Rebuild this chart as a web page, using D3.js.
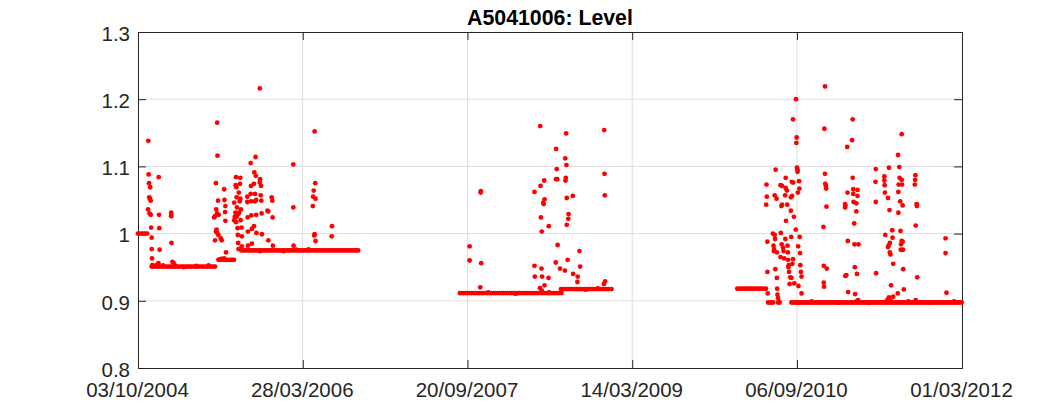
<!DOCTYPE html>
<html>
<head>
<meta charset="utf-8">
<script src="https://cdn.jsdelivr.net/npm/d3@7"></script>
<style>
  html, body { margin: 0; padding: 0; background: #fff; }
  svg { display: block; }
</style>
</head>
<body>
<div id="chart"></div>
<script>
const chartTitle = "A5041006: Level";
const startDate = "03/10/2004";
const endDate = "01/03/2012";
const xTickLabels = ["03/10/2004", "28/03/2006", "20/09/2007", "14/03/2009", "06/09/2010", "01/03/2012"];
const yTicks = [0.8, 0.9, 1, 1.1, 1.2, 1.3];

// days since startDate on the flat stretches, one list per level
const runDays100 = [0, 6, 12, 18, 24, 30];
const runDays951 = [45, 52, 58, 65, 71, 78, 84, 91, 97, 104, 110, 117, 123, 130, 136, 143, 149, 156, 162, 169, 175, 182, 188, 195, 201, 208, 214, 221, 227, 234, 240, 247, 253];
const runDays961 = [264, 270, 277, 283, 290, 296, 303, 309, 315];
const runDays975 = [340, 347, 353, 360, 366, 373, 379, 386, 392, 399, 405, 412, 418, 425, 431, 438, 444, 451, 457, 464, 470, 477, 483, 490, 496, 503, 509, 516, 522, 529, 535, 542, 548, 555, 561, 568, 574, 581, 587, 594, 600, 607, 613, 620, 626, 633, 639, 646, 652, 659, 665, 672, 678, 685, 691, 698, 704, 711, 717, 723];
const runDays911 = [1057, 1064, 1070, 1077, 1083, 1090, 1096, 1103, 1109, 1116, 1122, 1129, 1135, 1142, 1148, 1155, 1161, 1168, 1174, 1181, 1187, 1194, 1200, 1207, 1213, 1220, 1226, 1233, 1239, 1246, 1252, 1259, 1265, 1272, 1278, 1285, 1291, 1298, 1304, 1311, 1317, 1324, 1330, 1337, 1343, 1350, 1356, 1363, 1369, 1376, 1382, 1391];
const runDays917 = [1389, 1396, 1402, 1409, 1415, 1422, 1428, 1435, 1441, 1448, 1454, 1461, 1467, 1474, 1480, 1487, 1493, 1500, 1506, 1513, 1519, 1526, 1532, 1539, 1545, 1555];
const runDays918 = [1968, 1975, 1981, 1988, 1994, 2001, 2007, 2014, 2020, 2027, 2033, 2040, 2046, 2053, 2062];
const runDays898 = [2069, 2075, 2081, 2086, 2102, 2107, 2146, 2152, 2159, 2165, 2172, 2178, 2185, 2191, 2198, 2204, 2211, 2217, 2224, 2230, 2237, 2243, 2250, 2256, 2263, 2269, 2276, 2282, 2289, 2295, 2302, 2308, 2315, 2321, 2328, 2334, 2341, 2347, 2354, 2360, 2367, 2373, 2380, 2386, 2393, 2399, 2406, 2412, 2419, 2425, 2432, 2438, 2445, 2451, 2458, 2464, 2471, 2477, 2484, 2490, 2497, 2503, 2510, 2516, 2523, 2529, 2536, 2542, 2549, 2555, 2562, 2568, 2575, 2581, 2588, 2594, 2601, 2607, 2614, 2620, 2627, 2633, 2640, 2646, 2653, 2659, 2666, 2672, 2679, 2685, 2692, 2698, 2705];

// small wobbles around the flat stretches: [days since startDate, level]
const wobble = [[60,0.953],[82,0.9525],[150,0.950],[192,0.952],[232,0.9525],[275,0.9625],[400,0.974],[478,0.974],[520,0.976],[560,0.9765],[1150,0.9125],[1240,0.9105],[1350,0.9125],[1470,0.9165],[1510,0.9185],[2170,0.897],[2212,0.899],[2300,0.897],[2400,0.897],[2458,0.899],[2472,0.900],[2530,0.899],[2600,0.897],[2680,0.899]];

// scattered readings: [days since startDate, level]
const burst2004 = [[34,1.138],[35,1.088],[36,1.075],[40,1.069],[37,1.054],[39,1.052],[42,1.049],[33,1.036],[38,1.030],[42,1.028],[43,1.009],[45,0.994],[45,0.977],[46,0.963],[47,0.953],[68,1.084],[69,1.028],[70,1.008],[71,0.976],[109,1.031],[109,1.028],[109,1.026],[110,0.986],[67,0.956],[113,0.958],[117,0.956],[121,0.953]];
const burst2005 = [[289,0.972],[270,0.962],[283,0.963],[260,1.165],[261,1.116],[256,1.075],[263,1.049],[257,1.036],[260,1.030],[265,1.028],[250,1.024],[253,1.026],[258,1.006],[256,1.003],[260,1.001],[264,0.998],[253,0.990],[272,0.993],[275,0.990],[283,1.066],[284,1.050],[287,1.041],[286,1.032],[287,1.019]];
const burst2005b = [[322,1.084],[336,1.083],[335,1.074],[321,1.072],[323,1.069],[331,1.061],[324,1.054],[336,1.052],[334,1.048],[316,1.046],[325,1.039],[338,1.036],[320,1.031],[332,1.031],[329,1.029],[318,1.025],[324,1.025],[337,1.020],[316,1.020],[322,1.017],[327,1.008],[340,1.009],[328,0.998],[341,0.996],[329,0.986],[330,0.977],[341,0.981],[360,1.024],[359,1.055],[359,1.047],[370,1.059],[371,1.071],[370,1.105],[386,1.114],[400,1.216],[382,1.091],[387,1.086],[381,1.074],[401,1.081],[400,1.076],[404,1.071],[384,1.059],[403,1.057],[372,1.048],[384,1.048],[388,1.050],[405,1.049],[372,1.027],[388,1.028],[406,1.030],[381,1.011],[374,1.007],[361,1.003],[389,1.001],[407,0.999],[361,0.982],[374,0.985],[425,1.034],[428,1.033],[439,1.054],[441,1.049],[442,1.024],[428,0.990],[443,0.982],[510,1.103],[510,1.039],[511,0.982],[580,1.152],[582,1.075],[577,1.064],[575,1.055],[583,1.052],[574,1.041],[580,0.999],[579,0.997],[583,0.989],[637,1.011],[636,0.996]];
const burst2007 = [[1089,0.981],[1089,0.960],[1126,1.063],[1125,1.061],[1127,0.956],[1124,0.920],[1321,1.160],[1406,1.149],[1531,1.154],[1373,1.126],[1403,1.112],[1407,1.102],[1375,1.096],[1532,1.089],[1373,1.081],[1377,1.081],[1405,1.083],[1404,1.079],[1334,1.079],[1322,1.071],[1302,1.062],[1533,1.057],[1408,1.053],[1428,1.056],[1335,1.051],[1332,1.044],[1331,1.046],[1414,1.029],[1413,1.022],[1323,1.024],[1408,1.013],[1349,1.011],[1326,1.003],[1378,0.983],[1450,0.974],[1411,0.961],[1372,0.957],[1302,0.952],[1325,0.948],[1386,0.948],[1402,0.945],[1452,0.951],[1429,0.940],[1303,0.936],[1327,0.936],[1348,0.934],[1444,0.936],[1443,0.928],[1335,0.923],[1320,0.919],[1326,0.915],[1534,0.929],[1530,0.925]];
const burst2010 = [[2161,1.200],[2151,1.170],[2163,1.143],[2162,1.135],[2164,1.098],[2166,1.095],[2166,1.092],[2094,1.095],[2127,1.083],[2171,1.078],[2147,1.077],[2152,1.076],[2064,1.073],[2110,1.072],[2115,1.071],[2127,1.068],[2131,1.064],[2172,1.067],[2167,1.061],[2125,1.057],[2091,1.057],[2097,1.052],[2065,1.055],[2148,1.056],[2144,1.054],[2063,1.043],[2115,1.043],[2113,1.041],[2132,1.043],[2144,1.034],[2154,1.025],[2128,1.019],[2160,1.006],[2111,1.001],[2085,1.000],[2091,0.998],[2145,0.995],[2173,0.995],[2092,0.992],[2126,0.992],[2067,0.988],[2087,0.982],[2114,0.984],[2133,0.982],[2168,0.981],[2089,0.977],[2118,0.979],[2088,0.974],[2098,0.972],[2120,0.974],[2134,0.972],[2174,0.971],[2110,0.965],[2122,0.963],[2151,0.962],[2135,0.961],[2149,0.955],[2137,0.953],[2136,0.950],[2175,0.953],[2093,0.947],[2138,0.943],[2067,0.943],[2177,0.943],[2179,0.936],[2142,0.935],[2146,0.934],[2098,0.934],[2140,0.925],[2155,0.926],[2169,0.922],[2099,0.918],[2179,0.911],[2068,0.911],[2100,0.909],[2102,0.904],[2105,0.899]];
const burst2011 = [[2256,1.219],[2254,1.156],[2347,1.170],[2508,1.148],[2345,1.139],[2329,1.129],[2496,1.117],[2423,1.096],[2466,1.098],[2500,1.099],[2256,1.089],[2347,1.083],[2251,1.010],[2261,1.040],[2257,1.074],[2259,1.071],[2260,1.067],[2252,0.952],[2262,0.948],[2252,0.927],[2253,0.921],[2331,0.989],[2330,1.061],[2349,1.066],[2363,1.065],[2349,1.059],[2363,1.056],[2322,1.044],[2323,1.042],[2322,1.039],[2350,1.047],[2359,1.045],[2359,1.033],[2352,1.015],[2353,0.984],[2366,0.984],[2354,0.950],[2361,0.940],[2326,0.938],[2323,0.937],[2332,0.913],[2355,0.910],[2422,1.077],[2451,1.085],[2451,1.079],[2452,1.072],[2453,1.061],[2463,1.053],[2423,1.047],[2468,1.035],[2454,0.998],[2477,1.005],[2478,0.994],[2469,0.986],[2465,0.982],[2463,0.980],[2469,0.972],[2471,0.969],[2480,0.955],[2424,0.941],[2473,0.923],[2480,0.906],[2466,0.905],[2462,0.902],[2495,0.911],[2501,1.083],[2508,1.080],[2498,1.073],[2509,1.073],[2497,1.062],[2503,1.048],[2511,1.042],[2497,1.031],[2504,1.004],[2508,0.989],[2511,0.988],[2506,0.984],[2505,0.976],[2512,0.976],[2513,0.947],[2515,0.917],[2553,1.087],[2552,1.080],[2551,1.073],[2557,1.044],[2558,1.043],[2558,1.041],[2554,1.012],[2559,0.935],[2652,0.993],[2652,0.971],[2655,0.912],[2365,0.901],[2359,0.899],[2554,0.901]];

const width = 1063;
const height = 413;
const margin = { top: 32, right: 101, bottom: 45, left: 138 };
const tickLen = 8;

const parseDate = d3.utcParse("%d/%m/%Y");
const formatDate = d3.utcFormat("%d/%m/%Y");
const start = parseDate(startDate);

const runs = [
  { days: runDays100, level: 1.0 },
  { days: runDays951, level: 0.951 },
  { days: runDays961, level: 0.961 },
  { days: runDays975, level: 0.975 },
  { days: runDays911, level: 0.9115 },
  { days: runDays917, level: 0.9175 },
  { days: runDays918, level: 0.918 },
  { days: runDays898, level: 0.8975 }
];

const points = runs
  .flatMap(r => r.days.map(d => [d, r.level]))
  .concat(wobble, burst2004, burst2005, burst2005b, burst2007, burst2010, burst2011);

const x = d3.scaleUtc()
  .domain([start, parseDate(endDate)])
  .range([margin.left, width - margin.right]);

const y = d3.scaleLinear()
  .domain([0.8, 1.3])
  .range([height - margin.bottom, margin.top]);

const svg = d3.select("#chart").append("svg")
  .attr("width", width)
  .attr("height", height)
  .attr("font-family", "'Liberation Sans', Arial, sans-serif");

const tickDates = xTickLabels.map(parseDate);

// grid
svg.append("g")
  .attr("stroke", "#dedede")
  .attr("stroke-width", 1)
  .selectAll("line.v")
  .data(tickDates.slice(1, -1))
  .join("line")
  .attr("x1", d => x(d))
  .attr("x2", d => x(d))
  .attr("y1", margin.top)
  .attr("y2", height - margin.bottom);

svg.append("g")
  .attr("stroke", "#dedede")
  .attr("stroke-width", 1)
  .selectAll("line.h")
  .data(yTicks.slice(1, -1))
  .join("line")
  .attr("x1", margin.left)
  .attr("x2", width - margin.right)
  .attr("y1", d => y(d))
  .attr("y2", d => y(d));

// axes, MATLAB style with inward ticks on all four sides
const xAxis = svg.append("g")
  .attr("transform", `translate(0,${height - margin.bottom})`)
  .call(d3.axisBottom(x).tickValues(tickDates).tickSize(-tickLen).tickPadding(tickLen + 6).tickFormat(formatDate));

const yAxis = svg.append("g")
  .attr("transform", `translate(${margin.left},0)`)
  .call(d3.axisLeft(y).tickValues(yTicks).tickSize(-tickLen).tickPadding(8).tickFormat(d => d3.format("")(d)));

const xTop = svg.append("g")
  .attr("transform", `translate(0,${margin.top})`)
  .call(d3.axisTop(x).tickValues(tickDates).tickSize(-tickLen).tickFormat(""));

const yRight = svg.append("g")
  .attr("transform", `translate(${width - margin.right},0)`)
  .call(d3.axisRight(y).tickValues(yTicks).tickSize(-tickLen).tickFormat(""));

[xAxis, yAxis, xTop, yRight].forEach(a => {
  a.selectAll(".domain").attr("stroke", "#262626").attr("stroke-width", 1);
  a.selectAll(".tick line").attr("stroke", "#262626").attr("stroke-width", 1);
  a.selectAll(".tick text").attr("fill", "#262626").attr("font-size", 20.5);
});
yAxis.selectAll(".tick text").attr("dy", "0.4em");
xAxis.selectAll(".tick text").attr("dx", -1);

// points
svg.append("g")
  .attr("fill", "#ff0000")
  .selectAll("circle")
  .data(points)
  .join("circle")
  .attr("cx", d => x(d3.utcDay.offset(start, d[0])))
  .attr("cy", d => y(d[1]))
  .attr("r", 2.4);

svg.append("text")
  .attr("x", (margin.left + width - margin.right) / 2)
  .attr("y", 25)
  .attr("text-anchor", "middle")
  .attr("font-size", 21.3)
  .attr("font-weight", "bold")
  .attr("fill", "#000")
  .text(chartTitle);
</script>
</body>
</html>
